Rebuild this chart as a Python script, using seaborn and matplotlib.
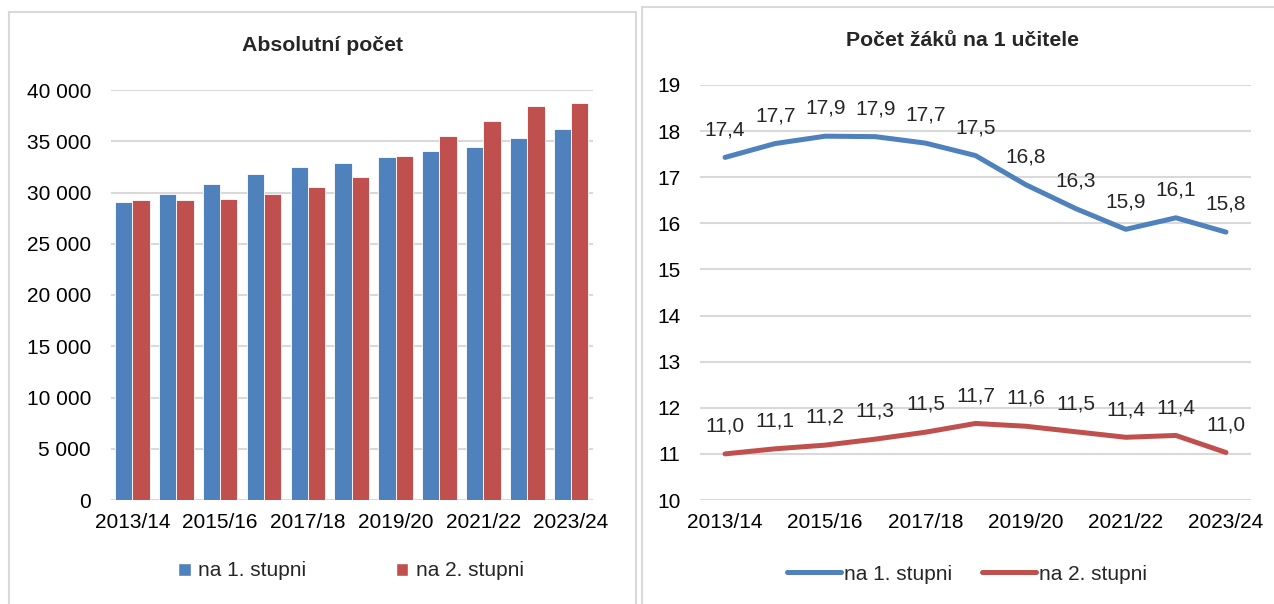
import numpy as np
import pandas as pd
import matplotlib
matplotlib.use("Agg")
import matplotlib.pyplot as plt
from matplotlib.patches import Rectangle
from matplotlib.lines import Line2D
import seaborn as sns

# ---- data ----
years = ["2013/14", "2014/15", "2015/16", "2016/17", "2017/18", "2018/19",
         "2019/20", "2020/21", "2021/22", "2022/23", "2023/24"]
series_names = ["na 1. stupni", "na 2. stupni"]
abs_stupen1 = [29030, 29900, 30840, 31810, 32460, 32850, 33470, 34090, 34450, 35360, 36240]
abs_stupen2 = [29250, 29220, 29400, 29830, 30580, 31520, 33600, 35500, 36930, 38420, 38780]
ratio_stupen1 = [17.43, 17.73, 17.89, 17.88, 17.74, 17.47, 16.84, 16.32, 15.87, 16.12, 15.81]
ratio_stupen2 = [11.00, 11.11, 11.19, 11.32, 11.47, 11.66, 11.60, 11.48, 11.36, 11.40, 11.03]
shown_year_labels = ["2013/14", "2015/16", "2017/18", "2019/20", "2021/22", "2023/24"]
title_left = "Absolutní počet"
title_right = "Počet žáků na 1 učitele"

BLUE = "#4F81BD"
RED = "#C0504D"
GRID = "#D9D9D9"

sns.set_theme(style="white")
plt.rcParams["font.family"] = ["Liberation Sans", "DejaVu Sans"]
FS = 15

fig = plt.figure(figsize=(12.74, 6.04), dpi=100)

# panel borders
fig.patches.append(Rectangle((9 / 1274, -0.01), 627 / 1274, 1 - 11.6 / 604 + 0.01,
                             transform=fig.transFigure, fill=False, edgecolor=GRID, lw=1.5))
fig.patches.append(Rectangle((642 / 1274, -0.01), 640 / 1274, 1 - 7 / 604 + 0.01,
                             transform=fig.transFigure, fill=False, edgecolor=GRID, lw=1.5))

# ---- left: bars ----
axL = fig.add_axes([110.5 / 1274, 1 - 500 / 604, 482.5 / 1274, 410 / 604])
df_bar = pd.DataFrame({
    "year": years * 2,
    "series": [series_names[0]] * len(years) + [series_names[1]] * len(years),
    "value": abs_stupen1 + abs_stupen2,
})
sns.barplot(data=df_bar, x="year", y="value", hue="series", order=years,
            hue_order=series_names, palette=[BLUE, RED], width=0.79,
            edgecolor="white", linewidth=0.6, saturation=1, ax=axL, legend=False)
axL.set_ylim(0, 40000)
axL.set_xlim(-0.5, len(years) - 0.5)
axL.set_yticks(np.arange(0, 40001, 5000))
axL.set_yticklabels([f"{int(v):,}".replace(",", " ") for v in np.arange(0, 40001, 5000)])
axL.set_xticks([years.index(y) for y in shown_year_labels])
axL.set_xticklabels(shown_year_labels)
axL.yaxis.grid(True, color=GRID, lw=1.5)
axL.set_axisbelow(True)
for s in axL.spines.values():
    s.set_visible(False)
axL.tick_params(axis="both", length=0, labelsize=FS, colors="black")
axL.tick_params(axis="y", pad=14)
axL.tick_params(axis="x", pad=9)
axL.set_xlabel("")
axL.set_ylabel("")
fig.text(323 / 1274, 1 - 45.5 / 604, title_left, ha="center", va="center",
         fontsize=15.3, fontweight="bold")
handlesL = [Rectangle((0, 0), 1, 1, facecolor=BLUE), Rectangle((0, 0), 1, 1, facecolor=RED)]
fig.legend(handlesL, series_names, loc="center", bbox_to_anchor=(351 / 1274, 1 - 571 / 604),
           ncol=2, frameon=False, fontsize=FS, handlelength=0.6, handleheight=0.6,
           handletextpad=0.35, columnspacing=4.3)

# ---- right: lines ----
axR = fig.add_axes([700 / 1274, 1 - 500 / 604, 551 / 1274, 415 / 604])
df_line = pd.DataFrame({
    "x": list(range(len(years))) * 2,
    "series": [series_names[0]] * len(years) + [series_names[1]] * len(years),
    "value": ratio_stupen1 + ratio_stupen2,
})
sns.lineplot(data=df_line, x="x", y="value", hue="series", hue_order=series_names,
             palette=[BLUE, RED], linewidth=3.6, ax=axR, legend=False)
for line in axR.lines:
    line.set_solid_capstyle("round")
for vals in (ratio_stupen1, ratio_stupen2):
    for i, v in enumerate(vals):
        axR.annotate(f"{v:.1f}".replace(".", ","), (i, v), xytext=(0, 20),
                     textcoords="offset points", ha="center", va="center", fontsize=FS)
axR.set_ylim(10, 19)
axR.set_xlim(-0.5, len(years) - 0.5)
axR.set_yticks(range(10, 20))
axR.set_xticks([years.index(y) for y in shown_year_labels])
axR.set_xticklabels(shown_year_labels)
axR.yaxis.grid(True, color=GRID, lw=1.5)
axR.set_axisbelow(True)
for s in axR.spines.values():
    s.set_visible(False)
axR.tick_params(axis="both", length=0, labelsize=FS, colors="black")
axR.tick_params(axis="y", pad=14)
axR.tick_params(axis="x", pad=9)
axR.set_xlabel("")
axR.set_ylabel("")
fig.text(963 / 1274, 1 - 40.5 / 604, title_right, ha="center", va="center",
         fontsize=15.3, fontweight="bold")
handlesR = [Line2D([], [], color=BLUE, lw=3.6), Line2D([], [], color=RED, lw=3.6)]
fig.legend(handlesR, series_names, loc="center", bbox_to_anchor=(967 / 1274, 1 - 574 / 604),
           ncol=2, frameon=False, fontsize=FS, handlelength=2.6,
           handletextpad=0.15, columnspacing=1.4)

fig.savefig("out.png", dpi=100)
